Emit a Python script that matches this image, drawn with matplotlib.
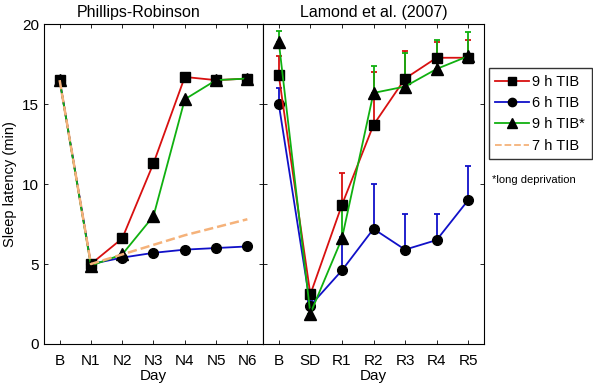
import matplotlib
matplotlib.use('Agg')
import matplotlib.pyplot as plt
import numpy as np

plt.rcParams['font.family'] = ['Liberation Sans', 'DejaVu Sans']
plt.rcParams['font.size'] = 10.5

# model simulation (Phillips-Robinson)
days_model = ['B', 'N1', 'N2', 'N3', 'N4', 'N5', 'N6']
model_9h = [16.5, 5.0, 6.6, 11.3, 16.7, 16.5, 16.6]
model_6h = [16.5, 5.0, 5.4, 5.7, 5.9, 6.0, 6.1]
model_9h_long = [16.5, 4.9, 5.6, 8.0, 15.3, 16.5, 16.6]
model_7h = [16.5, 5.0, 5.6, 6.2, 6.8, 7.3, 7.8]

# experimental data (Lamond et al. 2007), upper error bars only
days_exp = ['B', 'SD', 'R1', 'R2', 'R3', 'R4', 'R5']
exp_9h = [16.8, 3.1, 8.7, 13.7, 16.6, 17.9, 17.9]
exp_9h_top = [18.0, 3.4, 10.7, 17.0, 18.3, 18.9, 19.0]
exp_6h = [15.0, 2.4, 4.6, 7.2, 5.9, 6.5, 9.0]
exp_6h_top = [16.0, 2.7, 6.7, 10.0, 8.1, 8.1, 11.1]
exp_9h_long = [18.9, 1.9, 6.6, 15.7, 16.1, 17.2, 18.0]
exp_9h_long_top = [19.6, 2.2, 8.5, 17.4, 18.2, 19.0, 19.5]

red = '#d81010'
blue = '#1010c8'
green = '#10b010'
orange = '#f5b27a'

fig = plt.figure(figsize=(5.93, 3.90), dpi=100)
ax1 = fig.add_axes([0.0742, 0.118, 0.3693, 0.820])
ax2 = fig.add_axes([0.4435, 0.118, 0.3727, 0.820])

x = np.arange(7)

ax1.plot(x, model_9h, marker='s', mfc='black', mec='black', color=red, ms=7, lw=1.3)
ax1.plot(x, model_6h, marker='o', mfc='black', mec='black', color=blue, ms=7, lw=1.3)
ax1.plot(x, model_9h_long, marker='^', mfc='black', mec='black', color=green, ms=8, lw=1.3)
ax1.plot(x, model_7h, '--', color=orange, lw=1.8)

def with_err(ax, vals, tops, col, marker, ms):
    vals = np.array(vals)
    up = np.array(tops) - vals
    ax.errorbar(x, vals, yerr=[np.zeros_like(up), up], color=col, lw=1.3,
                marker=marker, mfc='black', mec='black', ms=ms,
                capsize=2, elinewidth=1.3, capthick=1.3)

with_err(ax2, exp_6h, exp_6h_top, blue, 'o', 7)
with_err(ax2, exp_9h, exp_9h_top, red, 's', 7)
with_err(ax2, exp_9h_long, exp_9h_long_top, green, '^', 8)

for ax, labels, title, tx in [(ax1, days_model, 'Phillips-Robinson', 0.43),
                              (ax2, days_exp, 'Lamond et al. (2007)', 0.5)]:
    ax.set_xlim(-0.5, 6.5)
    ax.set_ylim(0, 20)
    ax.set_xticks(x)
    ax.set_xticklabels(labels)
    ax.set_yticks([0, 5, 10, 15, 20])
    ax.tick_params(direction='in', top=True, right=True, length=3, width=0.6,
                   labelsize=11)
    ax.tick_params(axis='x', pad=7)
    ax.set_xlabel('Day', labelpad=1, fontsize=11)
    ax.text(tx, 1.012, title, transform=ax.transAxes, ha='center',
            va='bottom', fontsize=11.5)
    for s in ax.spines.values():
        s.set_linewidth(0.8)

ax1.set_ylabel('Sleep latency (min)', fontsize=10.5)
ax2.set_yticklabels([])

handles = [
    plt.Line2D([], [], color=red, marker='s', mfc='black', mec='black', ms=6, lw=1.3),
    plt.Line2D([], [], color=blue, marker='o', mfc='black', mec='black', ms=6, lw=1.3),
    plt.Line2D([], [], color=green, marker='^', mfc='black', mec='black', ms=7, lw=1.3),
    plt.Line2D([], [], color=orange, ls='--', lw=1.3),
]
fig.legend(handles, ['9 h TIB', '6 h TIB', '9 h TIB*', '7 h TIB'],
           loc='upper left', bbox_to_anchor=(0.824, 0.825),
           frameon=True, fancybox=False, edgecolor='black',
           handlelength=2.3, handletextpad=0.25, borderpad=0.45,
           borderaxespad=0, labelspacing=0.5, fontsize=10.5)
fig.text(0.83, 0.53, '*long deprivation', fontsize=8)

fig.savefig('out.png', dpi=100)
